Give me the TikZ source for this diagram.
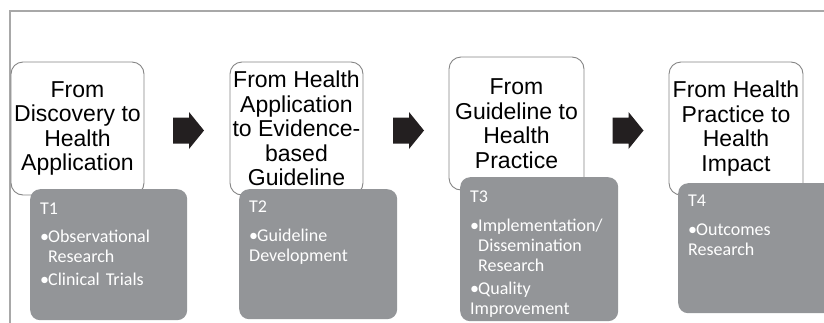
\documentclass[tikz,border=0pt]{standalone}
\usepackage{fontspec}
\newfontfamily\stagefont{Liberation Sans}
\newfontfamily\tierfont{Carlito}
\usetikzlibrary{calc}

\definecolor{frameline}{HTML}{A8A8A8}
\definecolor{stageline}{HTML}{858585}
\definecolor{tierfill}{HTML}{939598}
\definecolor{arrowfill}{HTML}{231F20}

% one bulleted entry with hanging indent
\newcommand\tieritem[1]{\par\vspace{3pt}\hangindent=8pt\hangafter=1\noindent\makebox[8pt][l]{\textbullet}#1}

\begin{document}
\begin{tikzpicture}[x=1pt,y=-1pt,
  stagebox/.style={draw=stageline, line width=0.9pt, fill=white,
    rounded corners=12pt, inner sep=0pt, align=center,
    font=\stagefont\fontsize{23}{24.5}\selectfont},
  tierbox/.style={fill=tierfill, rounded corners=10pt, inner sep=0pt,
    anchor=north west},
  tiertext/.style={anchor=north west, inner sep=0pt, text width=150pt,
    text=white, font=\tierfont\fontsize{18}{20}\selectfont},
  bigarrow/.style={fill=arrowfill}
]
\path[use as bounding box] (0,0) rectangle (824,322);
\clip (0,0) rectangle (824,322);

% outer frame
\draw[frameline, line width=1.4pt] (10,330) -- (10,11) -- (830,11);

% stage boxes
\node[stagebox, minimum width=133pt, minimum height=133pt] (s1) at (77.5,128.5)
  {From\\Discovery to\\Health\\Application};
\node[stagebox, minimum width=133pt, minimum height=133pt] (s2) at (296.5,128.5)
  {From Health\\Application\\to Evidence-\\based\\Guideline};
\node[stagebox, minimum width=135pt, minimum height=133pt] (s3) at (516.5,123.5)
  {From\\Guideline to\\Health\\Practice};
\node[stagebox, minimum width=134pt, minimum height=133pt] (s4) at (736,128.5)
  {From Health\\Practice to\\Health\\Impact};

% tier boxes
\node[tierbox, minimum width=157pt, minimum height=131pt] (t1) at (30,189) {};
\node[tierbox, minimum width=158pt, minimum height=130pt] (t2) at (239,189) {};
\node[tierbox, minimum width=158pt, minimum height=144pt] (t3) at (460,177) {};
\node[tierbox, minimum width=170pt, minimum height=130pt] (t4) at (678,183) {};

\node[tiertext] (t1txt) at ($(t1.north west)+(10,13.5)$)
  {\raggedright T1\par\vspace{5.5pt}%
   \tieritem{Observational\newline Research}%
   \tieritem{Clinical Trials}};
\node[tiertext] (t2txt) at ($(t2.north west)+(10,12)$)
  {\raggedright T2\par\vspace{5.5pt}%
   \tieritem{Guideline\newline Development}};
\node[tiertext] (t3txt) at ($(t3.north west)+(10,14)$)
  {\raggedright T3\par\vspace{5.5pt}%
   \tieritem{Implementation/\newline Dissemination\newline Research}%
   \tieritem{Quality\newline Improvement}};
\node[tiertext] (t4txt) at ($(t4.north west)+(10,12)$)
  {\raggedright T4\par\vspace{5.5pt}%
   \tieritem{Outcomes\newline Research}};

% block arrows between stages
\coordinate (a1) at (173,130.5);
\coordinate (a2) at (393,130.5);
\coordinate (a3) at (612.5,130.5);
\foreach \a in {a1,a2,a3}{
  \fill[bigarrow] (\a) ++(0,-13) -- ++(16,0) -- ++(0,-5.5) -- ++(15,18.5)
    -- ++(-15,18.5) -- ++(0,-5.5) -- ++(-16,0) -- cycle;
}
\end{tikzpicture}
\end{document}
